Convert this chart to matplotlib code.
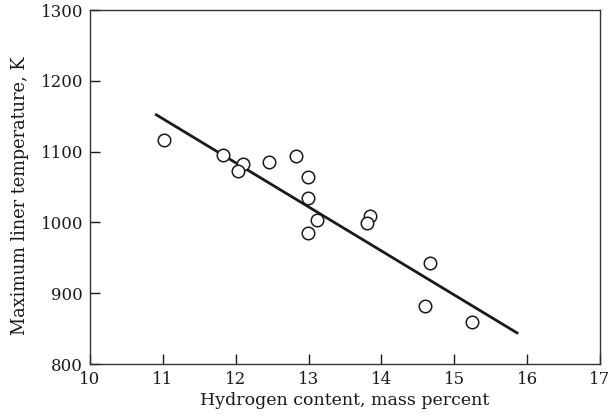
import matplotlib
matplotlib.use("Agg")
import matplotlib.pyplot as plt

# data
hydrogen = [11.02, 11.83, 12.10, 12.03, 12.45, 12.83, 12.99, 12.99, 13.12, 12.99,
            13.84, 13.80, 14.67, 14.60, 15.24]
liner_temp = [1117, 1095, 1083, 1072, 1086, 1094, 1064, 1034, 1004, 985,
              1009, 999, 943, 882, 859]

# fitted line end points
fit_x = [10.91, 15.86]
fit_y = [1152, 844]

x_ticks = [10, 11, 12, 13, 14, 15, 16, 17]
y_ticks = [800, 900, 1000, 1100, 1200, 1300]

plt.rcParams["font.family"] = ["DejaVu Serif"]

fig = plt.figure(figsize=(6.11, 4.19), dpi=100)
ax = fig.add_axes([90 / 611, 55 / 419, 510 / 611, 354 / 419])

ax.plot(fit_x, fit_y, color="#1a1a1a", linewidth=2.0, zorder=2)
ax.plot(hydrogen, liner_temp, "o", markersize=9, markerfacecolor="white",
        markeredgecolor="#1a1a1a", markeredgewidth=1.1, zorder=3)

ax.set_xlim(10, 17)
ax.set_ylim(800, 1300)
ax.set_xticks(x_ticks)
ax.set_yticks(y_ticks)
ax.tick_params(direction="in", length=7, width=1, labelsize=12, colors="#1a1a1a", pad=5)

for sp in ax.spines.values():
    sp.set_linewidth(1.0)
    sp.set_color("#333333")

ax.set_xlabel("Hydrogen content, mass percent", fontsize=12.5, color="#1a1a1a", labelpad=3)
ax.set_ylabel("Maximum liner temperature, K", fontsize=12.8, color="#1a1a1a")
ax.yaxis.set_label_coords(-0.12, 0.475)

fig.savefig("out.png", dpi=100)
